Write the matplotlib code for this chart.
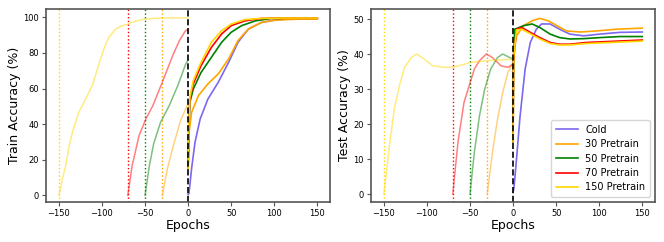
import matplotlib
matplotlib.use("Agg")
import matplotlib.pyplot as plt

# ---- données ----
labels = ["Cold", "30 Pretrain", "50 Pretrain", "70 Pretrain", "150 Pretrain"]
couleurs = ["#7B68EE", "#FFA500", "green", "red", "#FFD700"]
pretrain = [None, 30, 50, 70, 150]

# pré-entraînement (epochs négatifs), précision train
pre_train_x = {
    30: [-30, -24, -16, -8, 0],
    50: [-50, -45, -40, -32, -22, -12, -3, 0],
    70: [-70, -65, -57, -49, -41, -30, -18, -10, -3, 0],
    150: [-150, -146, -142, -138, -134, -127, -119, -111, -104, -98, -92, -84, -78,
          -70, -60, -50, -40, -30, -15, 0],
}
pre_train_y = {
    30: [0, 15, 30, 43, 51.5],
    50: [0, 16.6, 29, 41, 50.3, 61.6, 73.5, 76],
    70: [0, 16.6, 33.5, 43, 50.3, 63.5, 78.4, 87, 92.5, 93],
    150: [0, 9, 17, 28, 36, 46.6, 54, 62, 73, 82, 88.8, 93.4, 95, 96.2, 98, 99, 99.4,
          99.6, 99.7, 99.7],
}

# pré-entraînement, précision test
pre_test_x = {
    30: [-30, -24, -18, -12, -6, 0],
    50: [-50, -45, -39, -33, -26, -18, -12, -4, 0],
    70: [-70, -64, -57, -51, -45, -39, -31, -24, -14, -6, 0],
    150: [-150, -144, -138, -132, -126, -118, -112, -103, -93, -80, -68, -49, -29, 0],
}
pre_test_y = {
    30: [0, 11.9, 21.5, 29.1, 34.8, 37.7],
    50: [0, 11.9, 22.4, 30, 35.8, 39.1, 40.1, 39.1, 38.6],
    70: [0, 14.8, 26.2, 31, 35.8, 38.2, 40.1, 39.1, 36.7, 36.3, 37.2],
    150: [0, 12.9, 24.3, 31, 36.3, 39.1, 40.1, 38.6, 36.7, 36.3, 36.4, 37.7, 38.2, 38.6],
}

# après le pré-entraînement (epochs 0 à 150), précision train
post_train_x = {
    "Cold": [0, 1, 4, 8, 14, 23, 35, 47, 58, 70, 85, 100, 113, 130, 150],
    "30 Pretrain": [0, 1, 4, 12, 23, 35, 47, 58, 70, 85, 100, 113, 130, 150],
    "50 Pretrain": [0, 1, 2, 6, 15, 27, 39, 50, 62, 78, 97, 120, 150],
    "70 Pretrain": [0, 1, 2, 6, 15, 27, 39, 50, 66, 85, 110, 150],
    "150 Pretrain": [0, 1, 2, 6, 15, 27, 39, 50, 66, 85, 110, 150],
}
post_train_y = {
    "Cold": [0.5, 1, 14.8, 29.8, 42.9, 54.1, 63.5, 74.7, 86, 93.4, 97.1, 98.4, 99, 99.3, 99.4],
    "30 Pretrain": [15, 35, 46.6, 56, 62.6, 68.2, 76.6, 87, 93.4, 97.1, 98.3, 98.7, 99, 99],
    "50 Pretrain": [15, 40, 52.2, 59.7, 69, 77.5, 86, 91.6, 95.3, 98, 99.4, 99.5, 99.5],
    "70 Pretrain": [15, 42, 54, 62.6, 72.8, 83.1, 90.7, 95.3, 98, 99.4, 99.5, 99.5],
    "150 Pretrain": [15, 43, 55, 64.4, 74.7, 86, 92.5, 96.2, 98.7, 99.4, 99.6, 99.6],
}

# après le pré-entraînement, précision test
post_test_x = {
    "Cold": [0, 1, 4, 8, 14, 20, 27, 33, 43, 54, 66, 82, 101, 124, 150],
    "30 Pretrain": [0, 0.5, 4, 12, 22, 31, 41, 51, 62, 78, 97, 120, 150],
    "50 Pretrain": [0, 0.5, 2, 12, 22, 31, 43, 54, 66, 82, 101, 124, 150],
    "70 Pretrain": [0, 0.5, 4, 10, 20, 31, 43, 54, 66, 85, 113, 150],
    "150 Pretrain": [0, 0.5, 4, 10, 20, 31, 43, 54, 66, 85, 113, 150],
}
post_test_y = {
    "Cold": [0.5, 1.7, 10, 22, 35.8, 43.4, 47.2, 48.7, 48.7, 47.2, 45.8, 45.3, 45.8, 46.3,
             46.4],
    "30 Pretrain": [15, 40.5, 45.3, 48.2, 49.6, 50.3, 49.6, 48.2, 46.7, 46.4, 46.7, 47.2, 47.5],
    "50 Pretrain": [15, 38, 47.2, 48.2, 48.7, 47.7, 45.8, 44.8, 44.4, 44.5, 44.8, 45.1, 45.1],
    "70 Pretrain": [15, 38, 47.2, 47.7, 46.3, 44.8, 43.4, 42.9, 42.9, 43.4, 43.7, 44.1],
    "150 Pretrain": [15, 39, 47, 47.2, 45.9, 44.4, 43.1, 42.7, 42.7, 43.1, 43.4, 43.8],
}


def tracer(ax, pre_x, pre_y, post_x, post_y, ylabel, yticks):
    for lab, c, p in zip(labels, couleurs, pretrain):
        if p is not None:
            ax.plot(pre_x[p], pre_y[p], color=c, alpha=0.5, lw=1.1)
            ax.axvline(-p, color=c, ls=":", lw=1.0)
    for lab, c in zip(labels, couleurs):
        ax.plot(post_x[lab], post_y[lab], color=c, lw=1.2, label=lab)
    ax.axvline(0, color="black", ls="--", lw=1.2)
    ax.set_xlim(-165, 165)
    ax.set_xticks([-150, -100, -50, 0, 50, 100, 150])
    ax.set_yticks(yticks)
    ax.set_xlabel("Epochs", fontsize=9, labelpad=1)
    ax.set_ylabel(ylabel, fontsize=9, labelpad=2)
    ax.tick_params(labelsize=6, length=3, pad=2, color="#555555")
    for s in ax.spines.values():
        s.set_color("#555555")
        s.set_linewidth(1.2)


fig = plt.figure(figsize=(6.64, 2.42), dpi=100)
ax1 = fig.add_axes([0.0693, 0.165, 0.428, 0.798])
ax2 = fig.add_axes([0.5587, 0.165, 0.428, 0.798])

tracer(ax1, pre_train_x, pre_train_y, post_train_x, post_train_y,
       "Train Accuracy (%)", [0, 20, 40, 60, 80, 100])
tracer(ax2, pre_test_x, pre_test_y, post_test_x, post_test_y,
       "Test Accuracy (%)", [0, 10, 20, 30, 40, 50])
ax1.set_ylim(-3.8, 104.7)
ax2.set_ylim(-2.3, 53)
ax2.legend(loc="lower right", fontsize=7, handlelength=2.2, borderpad=0.5,
           labelspacing=0.45)

fig.savefig("out.png", dpi=100)
